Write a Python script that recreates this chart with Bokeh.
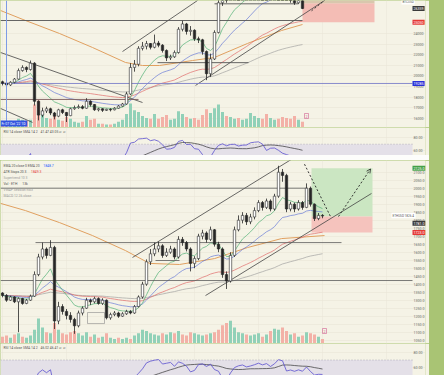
import pandas as pd
from bokeh.plotting import figure
from bokeh.models import (ColumnDataSource, Range1d, FixedTicker, SingleIntervalTicker, Label,
                          BoxAnnotation, Span, Arrow, OpenHead, Spacer, NumeralTickFormatter)
from bokeh.layouts import column
from bokeh.embed import file_html
from bokeh.resources import INLINE

# ---------------- data : upper chart (BTCUSD, daily) ----------------
btc_first_open = 19450
btc_close = [19300, 19150, 19400, 19700, 20500, 20800, 20600, 21200, 17600, 16300,
             16700, 16900, 16500, 16200, 16800, 16550, 16250, 16900, 17000, 17100,
             16950, 17600, 17300, 16800, 16900, 16750, 16850, 16800, 16950, 17150,
             17350, 18300, 20800, 21100, 22600, 22800, 23050, 22700, 23100, 22900,
             22400, 21700, 21800, 22200, 24400, 24900, 24200, 24300, 23500, 23400,
             22300, 20200, 21600, 24100, 26900, 28000, 27400, 28300, 28400, 27900,
             28400, 28500, 29800, 30200, 30400, 29900, 28300, 29300, 29400, 28800,
             28000, 27600, 27200, 26900, 27100, 26360]
btc_high = [19550, 19400, 19500, 19800, 20700, 21000, 20900, 21450, 21300, 17700,
            17000, 17100, 17000, 16600, 16900, 16900, 16600, 17000, 17200, 17300,
            17250, 17900, 17700, 17350, 17000, 16950, 16900, 16950, 17050, 17250,
            17450, 18500, 21200, 21500, 22800, 23200, 23300, 23100, 23900, 23300,
            23000, 22500, 22000, 22400, 24600, 25200, 25000, 24700, 24400, 23700,
            23500, 22400, 22100, 24300, 27300, 28400, 28500, 28800, 29000, 28600,
            28700, 29100, 30200, 30500, 31000, 30500, 30000, 29500, 30000, 29600,
            29100, 28300, 27800, 27500, 27300, 27200]
btc_low = [19100, 19000, 19050, 19300, 19650, 20400, 20350, 20500, 17200, 15800,
           16100, 16500, 16300, 15900, 16100, 16400, 15650, 16200, 16800, 16900,
           16850, 16900, 17100, 16700, 16650, 16600, 16700, 16650, 16750, 16900,
           17100, 17300, 18200, 20400, 20900, 22400, 22500, 22500, 22600, 22700,
           22200, 21400, 21500, 21700, 22100, 24200, 23900, 23800, 23300, 23100,
           22000, 19600, 19900, 21500, 24000, 26600, 26900, 27200, 28000, 27500,
           27800, 28200, 28400, 29700, 30000, 29400, 27700, 28200, 29000, 28600,
           27700, 27200, 26900, 26700, 26800, 26300]
btc_volume = [6, 5, 7, 6, 9, 8, 7, 8, 24, 28,
              14, 10, 9, 12, 8, 7, 11, 9, 6, 5,
              6, 12, 8, 9, 4, 4, 3, 3, 4, 6,
              8, 14, 25, 18, 16, 12, 10, 9, 14, 9,
              11, 13, 8, 9, 17, 14, 11, 9, 10, 8,
              13, 19, 15, 20, 24, 16, 12, 11, 9, 10,
              8, 9, 15, 12, 10, 9, 14, 10, 8, 9,
              11, 10, 9, 12, 8, 6]
btc_ma200_bar = [-0.5, 5.75, 14.25, 22.5, 30.75, 35, 39.25, 47.5, 53, 61.25, 69.75, 75]
btc_ma200 = [26170, 25225, 24000, 22680, 21265, 20980, 20980, 21450, 21740, 23060, 24280, 24850]
btc_ticks = [16000, 17000, 18000, 19000, 20000, 21000, 22000, 23000, 24000]
btc_trend_x0 = [-0.5, -0.5, 30, 48.25]
btc_trend_y0 = [22210, 16930, 22300, 19100]
btc_trend_x1 = [35, 7.5, 48.75, 80.5]
btc_trend_y1 = [17490, 15610, 27112, 27112]
btc_level_price = [25225, 26800, 21250, 17780, 19285]
btc_level_from = [-0.5, 53, 38.75, -0.5, -0.5]
btc_level_to = [75, 74, 61.5, 34, 102.5]
btc_support = 19285
btc_last = 26360
btc_stop = 25050
btc_entry = 26850
btc_target_edge = 27300
btc_pos_from, btc_pos_to = 75, 93
btc_cursor_bar = 1
btc_rsi_vals = ("41.47", "43.05")

# ---------------- data : lower chart (ETHUSD, daily) ----------------
eth_first_open = 1345
eth_close = [1330, 1300, 1320, 1290, 1310, 1280, 1300, 1325, 1460, 1570,
             1620, 1580, 1630, 1170, 1260, 1230, 1205, 1180, 1140, 1220,
             1250, 1300, 1290, 1310, 1280, 1300, 1190, 1210, 1220, 1200,
             1215, 1230, 1220, 1260, 1320, 1400, 1540, 1590, 1620, 1640,
             1580, 1600, 1620, 1570, 1680, 1660, 1620, 1530, 1560, 1700,
             1720, 1680, 1740, 1650, 1620, 1460, 1420, 1580, 1740, 1800,
             1830, 1790, 1820, 1860, 1910, 1880, 1920, 1870, 1950, 2100,
             2080, 1870, 1900, 1870, 1910, 1880, 2000, 1900, 1810, 1830,
             1826]
eth_high = [1350, 1338, 1328, 1325, 1318, 1315, 1308, 1335, 1480, 1590,
            1660, 1630, 1675, 1640, 1290, 1275, 1245, 1225, 1190, 1235,
            1262, 1315, 1310, 1322, 1318, 1312, 1305, 1222, 1232, 1228,
            1225, 1240, 1238, 1270, 1330, 1415, 1555, 1620, 1660, 1665,
            1650, 1625, 1640, 1630, 1700, 1695, 1670, 1630, 1575, 1715,
            1740, 1730, 1760, 1745, 1665, 1630, 1480, 1600, 1760, 1830,
            1850, 1845, 1840, 1880, 1925, 1920, 1935, 1930, 1965, 2140,
            2120, 2090, 1915, 1910, 1925, 1920, 2030, 2010, 1905, 1845,
            1838]
eth_low = [1318, 1290, 1295, 1282, 1100, 1272, 1275, 1295, 1320, 1450,
           1555, 1560, 1575, 1120, 1150, 1210, 1180, 1160, 1090, 1130,
           1205, 1245, 1270, 1280, 1272, 1270, 1180, 1178, 1200, 1190,
           1195, 1208, 1212, 1215, 1255, 1310, 1390, 1520, 1575, 1600,
           1565, 1570, 1590, 1555, 1560, 1640, 1605, 1480, 1500, 1550,
           1680, 1660, 1670, 1635, 1600, 1440, 1370, 1410, 1570, 1730,
           1780, 1770, 1775, 1805, 1850, 1860, 1870, 1855, 1860, 1940,
           2040, 1850, 1855, 1850, 1860, 1865, 1875, 1885, 1795, 1800,
           1812]
eth_volume = [6, 7, 5, 8, 9, 6, 5, 7, 12, 22,
              14, 10, 9, 18, 12, 9, 8, 10, 11, 9,
              7, 10, 6, 8, 5, 6, 9, 5, 4, 5,
              4, 5, 4, 7, 9, 12, 11, 9, 8, 7,
              9, 8, 10, 9, 11, 8, 7, 10, 9, 8,
              7, 8, 9, 10, 12, 16, 18, 20, 14, 10,
              9, 8, 7, 8, 9, 6, 8, 11, 13, 12,
              14, 11, 8, 9, 6, 7, 10, 9, 8, 6,
              4]
eth_ma200_bar = [-0.5, 5.75, 14.25, 22.5, 30.75, 36.75, 44.25, 53, 61.25, 69.75, 80.5]
eth_ma200 = [1905, 1860, 1785, 1704, 1610, 1530, 1523, 1560, 1629, 1685, 1704]
eth_ticks = [1050, 1100, 1150, 1200, 1250, 1300, 1350, 1400, 1450, 1500, 1550,
             1600, 1650, 1700, 1750, 1800, 1850, 1900, 1950, 2000, 2050, 2100]
eth_trend_x0 = [32.5, 50.75]
eth_trend_y0 = [1567, 1329]
eth_trend_x1 = [73.0, 92.25]
eth_trend_y1 = [2192, 1967]
eth_level_price = [2000, 1660, 1423, 1548]
eth_level_from = [-0.5, 8.25, -0.5, 38.25]
eth_level_to = [76.25, 84.75, 102.5, 44.25]
eth_range_box = (21.25, 25.5, 1154, 1223)
eth_entry = 1823
eth_target = 2125
eth_stop = 1723
eth_alert = 1781
eth_pos_from, eth_pos_to = 77.25, 92.5
eth_path_down = ((75.5, 2150), (82.0, 1823))
eth_path_up = ((84.0, 1823), (92.0, 2120))
eth_legend = [("EMA 20 close 0 EMA 20", "1848.7", "#2962ff"),
              ("ATR Stops 20 3", "1849.3", "#e53935"),
              ("Supertrend 10 3", "", "#999999"),
              ("Vol \u00b7 ETH", "13k", "#555555"),
              ("VWAP Session hlc3", "", "#999999"),
              ("MACD 12 26 close", "", "#999999")]
eth_rsi_vals = ("46.02", "46.41")
rsi_ticks = [60, 80]

# ---------------- style ----------------
BG = "#f5f3e6"
FONT = "Roboto"
W = 429
BORDER_R = 4
FRAME_W = W - BORDER_R
X0, X1 = -0.5, (FRAME_W - 2) / 4.0
TAG_X = 412
INK = "#262626"


def base_fig(h, y0, y1, ticks, fmt):
    p = figure(width=W, height=h, x_range=Range1d(X0, X1), y_range=Range1d(y0, y1),
               y_axis_location="right", output_backend="svg", toolbar_location=None,
               min_border=0, min_border_right=BORDER_R, min_border_left=0,
               min_border_top=0, min_border_bottom=0,
               background_fill_color=BG, border_fill_color=BG, outline_line_color=None,
               styles={"overflow": "hidden"})
    p.xaxis.visible = False
    ax = p.yaxis[0]
    ax.ticker = FixedTicker(ticks=ticks)
    ax.formatter = NumeralTickFormatter(format=fmt)
    ax.major_label_text_font_size = "3.6px"
    ax.major_label_text_color = "#6b6b6b"
    ax.major_label_text_font = FONT
    ax.axis_line_color = None
    ax.major_tick_line_color = None
    ax.minor_tick_line_color = None
    ax.major_tick_out = 0
    ax.major_tick_in = 0
    ax.minor_tick_out = 0
    ax.minor_tick_in = 0
    ax.major_label_standoff = -12
    p.ygrid.ticker = FixedTicker(ticks=ticks)
    p.ygrid.grid_line_color = "#e9e6d6"
    p.ygrid.grid_line_width = 0.6
    p.xgrid.ticker = SingleIntervalTicker(interval=16)
    p.xgrid.grid_line_color = "#ebe8da"
    p.xgrid.grid_line_width = 0.6
    return p


def opens_of(first, closes):
    return [first] + closes[:-1]


def draw_volume(p, opens, closes, vol, vmax, name):
    p.extra_y_ranges = {name: Range1d(0, vmax)}
    col = ["#86cdb3" if c >= o else "#f3aaa0" for o, c in zip(opens, closes)]
    p.vbar(x=list(range(len(vol))), top=vol, bottom=0, width=0.75, y_range_name=name,
           fill_color=col, line_color=None, fill_alpha=0.9)


def draw_candles(p, opens, closes, highs, lows):
    idx = list(range(len(closes)))
    src = ColumnDataSource(dict(
        x=idx, h=highs, l=lows,
        top=[max(o, c) for o, c in zip(opens, closes)],
        bot=[min(o, c) for o, c in zip(opens, closes)],
        fill=["#ffffff" if c >= o else INK for o, c in zip(opens, closes)]))
    p.segment(x0="x", y0="l", x1="x", y1="h", source=src, line_color=INK, line_width=0.8)
    p.vbar(x="x", top="top", bottom="bot", width=0.6, fill_color="fill",
           line_color=INK, line_width=0.6, source=src)


def draw_emas(p, closes):
    s = pd.Series(closes, dtype=float)
    idx = list(range(len(closes)))
    for span, color, alpha in [(100, "#9a9a9a", 0.8), (50, "#e06666", 0.85),
                               (21, "#5b6fd6", 0.8), (9, "#4caf72", 0.85)]:
        p.line(idx, list(s.ewm(span=span, adjust=False).mean()), line_color=color,
               line_width=0.8, line_alpha=alpha)


def tag(p, price, text, bg, fg="white", x=TAG_X, size="3.6px"):
    p.add_layout(Label(x=x, y=price, x_units="screen", y_units="data", text=text,
                       text_font=FONT, text_font_size=size, text_color=fg,
                       background_fill_color=bg, text_baseline="middle", text_align="left",
                       padding=1))


def rsi_series(closes, n=14):
    s = pd.Series(closes, dtype=float)
    d = s.diff()
    up = d.clip(lower=0).ewm(alpha=1.0 / n, adjust=False).mean()
    dn = (-d.clip(upper=0)).ewm(alpha=1.0 / n, adjust=False).mean()
    r = 100 - 100 / (1 + up / dn)
    return r, r.rolling(14, min_periods=1).mean()


def rsi_fig(h, y0, y1, closes, vals):
    p = base_fig(h, y0, y1, rsi_ticks, "0.00")
    p.add_layout(BoxAnnotation(bottom=30, top=70, right=102.5, fill_color="#e4e0e8",
                               fill_alpha=1, line_color=None, level="underlay"))
    p.segment(x0=[X0], y0=[70], x1=[102.5], y1=[70], line_color="#9a96a6",
              line_dash="1 2", line_width=0.7)
    r, ma = rsi_series(closes)
    idx = list(range(len(closes)))
    p.line(idx, list(ma), line_color="#333333", line_width=0.7)
    p.line(idx, list(r), line_color="#5a4fcf", line_width=0.8)
    p.add_layout(Label(x=3, y=h - 4, x_units="screen", y_units="screen",
                       text="RSI 14 close SMA 14 2", text_font=FONT, text_font_size="3.4px",
                       text_color="#555555", text_baseline="middle"))
    p.add_layout(Label(x=40, y=h - 4, x_units="screen", y_units="screen",
                       text=vals[0] + "   " + vals[1] + "   \u2205   \u2205", text_font=FONT,
                       text_font_size="3.4px", text_color="#555555", text_baseline="middle"))
    return p


# ---------------- upper chart ----------------
btc_open = opens_of(btc_first_open, btc_close)
p1 = base_fig(127, 15132, 27113, btc_ticks, "0")
p1.quad(left=[btc_pos_from], right=[btc_pos_to], bottom=[btc_stop], top=[btc_entry],
        fill_color="#f4bdb5", line_color=None)
p1.quad(left=[btc_pos_from], right=[btc_pos_to], bottom=[btc_entry], top=[btc_target_edge],
        fill_color="#d9c7ad", line_color=None)
draw_volume(p1, btc_open, btc_close, btc_volume, 132, "vol_btc")
p1.line(btc_ma200_bar, btc_ma200, line_color="#e0a060", line_width=1.0)
draw_emas(p1, btc_close)
p1.segment(x0=btc_trend_x0, y0=btc_trend_y0, x1=btc_trend_x1, y1=btc_trend_y1,
           line_color="#444444", line_width=0.8)
p1.segment(x0=btc_level_from, y0=btc_level_price, x1=btc_level_to, y1=btc_level_price,
           line_color=["#555555", "#555555", "#555555", "#7a5a5a", "#7d80c8"], line_width=0.9)
p1.add_layout(Span(location=btc_cursor_bar, dimension="height", line_color="#7d9be6",
                   line_width=1))
draw_candles(p1, btc_open, btc_close, btc_high, btc_low)
p1.segment(x0=[77.25], y0=[26140], x1=[80.5], y1=[27113], line_color="#222222",
           line_width=0.8, line_dash="2 2")
p1.add_layout(Label(x=0, y=1, x_units="screen", y_units="screen", text="Fr 07 Oct '22  1D",
                    text_font=FONT, text_font_size="3.4px", text_color="white",
                    background_fill_color="#3355e0", padding=1))
p1.add_layout(Label(x=btc_pos_from + 0.5, y=9, y_units="screen", text="2", text_font=FONT,
                    text_font_size="3.6px", text_color="#d06090",
                    border_line_color="#d06090", border_line_width=0.6, padding=1))
tag(p1, 26990, "BTCUSD", "#ffffff", fg="#555555", x=TAG_X - 11, size="3px")
tag(p1, btc_last, "26359", "#3a3a3a")
tag(p1, btc_stop, "25050", "#e53935")
tag(p1, btc_support, "19285", "#2a32d8")

p2 = rsi_fig(28, 52.2, 96.3, btc_close, btc_rsi_vals)

gap = Spacer(width=W, height=5, styles={"background-color": "#fdfdfb"})

# ---------------- lower chart ----------------
eth_open = opens_of(eth_first_open, eth_close)
p3 = base_fig(183, 1029.4, 2173, eth_ticks, "0.0")
p3.quad(left=[eth_pos_from], right=[eth_pos_to], bottom=[eth_entry], top=[eth_target],
        fill_color="#cbe6c2", line_color=None)
p3.quad(left=[eth_pos_from], right=[eth_pos_to], bottom=[eth_stop], top=[eth_entry],
        fill_color="#f5c3bd", line_color=None)
draw_volume(p3, eth_open, eth_close, eth_volume, 161, "vol_eth")
p3.line(eth_ma200_bar, eth_ma200, line_color="#e0a060", line_width=1.0)
draw_emas(p3, eth_close)
p3.segment(x0=eth_trend_x0, y0=eth_trend_y0, x1=eth_trend_x1, y1=eth_trend_y1,
           line_color="#444444", line_width=0.8)
p3.segment(x0=eth_level_from, y0=eth_level_price, x1=eth_level_to, y1=eth_level_price,
           line_color="#5a5a5a", line_width=0.8)
bx = eth_range_box
p3.quad(left=[bx[0]], right=[bx[1]], bottom=[bx[2]], top=[bx[3]], fill_color=None,
        line_color="#8a8a8a", line_width=0.6)
draw_candles(p3, eth_open, eth_close, eth_high, eth_low)
(ax0, ay0), (ax1, ay1) = eth_path_down
p3.segment(x0=[ax0], y0=[ay0], x1=[ax1], y1=[ay1], line_color="#222222", line_width=0.9,
           line_dash="2 2")
(bx0, by0), (bx1, by1) = eth_path_up
p3.add_layout(Arrow(end=OpenHead(size=4, line_width=0.8, line_color="#222222"),
                    x_start=bx0, y_start=by0, x_end=bx1, y_end=by1,
                    line_color="#222222", line_width=0.9, line_dash="2 2"))
for k, (name, val, col) in enumerate(eth_legend):
    yy = 178 - k * 6
    p3.add_layout(Label(x=3, y=yy, x_units="screen", y_units="screen", text=name,
                        text_font=FONT, text_font_size="3.4px",
                        text_color="#555555" if val else "#9a9a9a", text_baseline="middle"))
    if val:
        p3.add_layout(Label(x=3 + len(name) * 1.75 + 3, y=yy, x_units="screen",
                            y_units="screen", text=val, text_font=FONT,
                            text_font_size="3.4px", text_color=col, text_baseline="middle"))
p3.add_layout(Label(x=80, y=10, y_units="screen", text="2", text_font=FONT,
                    text_font_size="3.6px", text_color="#d06090",
                    border_line_color="#d06090", border_line_width=0.6, padding=1))
tag(p3, eth_close[-1] + 4, "ETHUSD  1826.4", "#ffffff", fg="#555555", x=TAG_X - 21,
    size="3px")
tag(p3, eth_target, "2125.0", "#43a047")
tag(p3, eth_alert, "1781.0", "#3a3a3a")
tag(p3, eth_stop, "1723.0", "#e53935")

p4 = rsi_fig(32, 48.5, 92.9, eth_close, eth_rsi_vals)

layout = column(p1, p2, gap, p3, p4, spacing=0)

html = file_html(layout, INLINE, title="BTC / ETH")
html = html.replace("<head>", "<head><style>html,body{margin:0;padding:0;background:#a9c474;"
                    "overflow:hidden}body{padding-left:8px}</style>", 1)
open("out.html", "w").write(html)
